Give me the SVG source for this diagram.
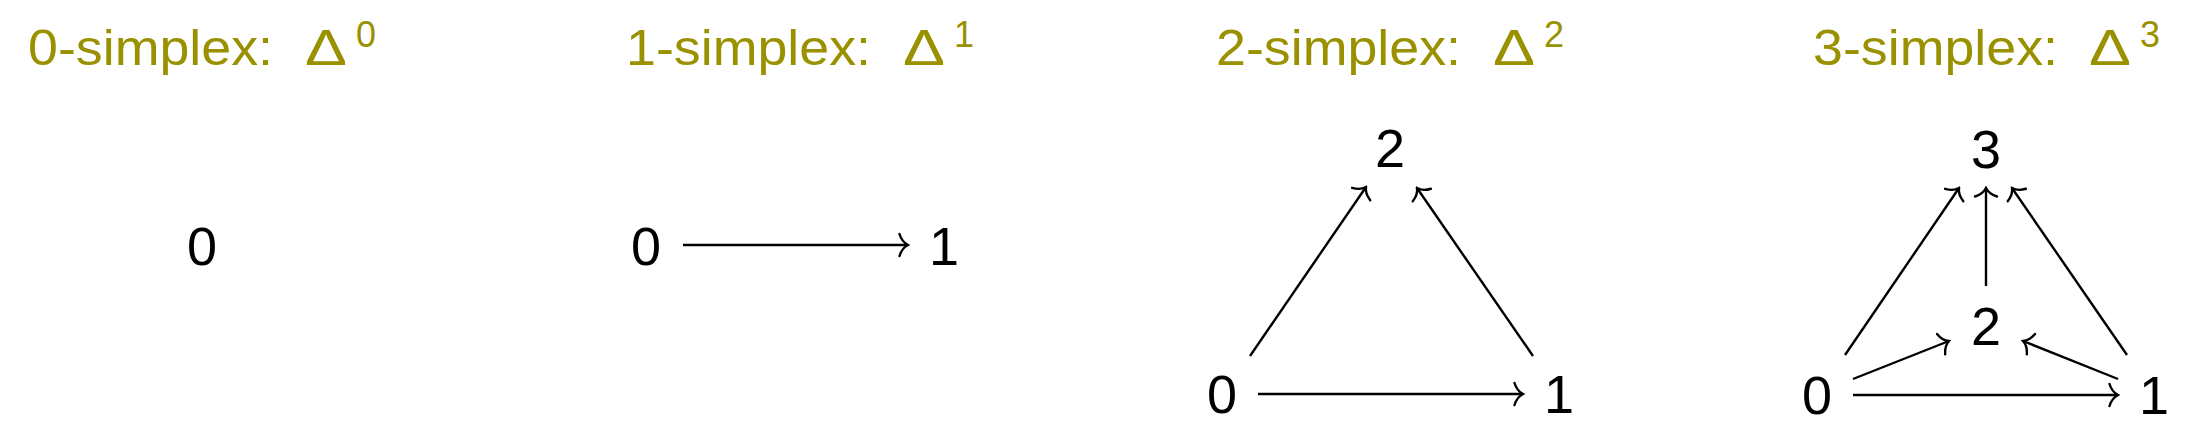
<svg xmlns="http://www.w3.org/2000/svg" width="2196" height="428" viewBox="0 0 2196 428">
  <style>
    .title { font-family: "Liberation Sans", Arial, sans-serif; fill: #999100; font-size: 50px; }
    .sup { font-family: "Liberation Sans", Arial, sans-serif; fill: #999100; font-size: 36px; }
    .lbl { font-family: "Liberation Sans", Arial, sans-serif; fill: #000; font-size: 54px; text-anchor: middle; }
    .edge { stroke: #000; stroke-width: 2.4; fill: none; marker-end: url(#to); }
  </style>
  <defs>
    <marker id="to" viewBox="-12 -14 14 28" refX="0" refY="0" markerWidth="14" markerHeight="28" markerUnits="userSpaceOnUse" orient="auto">
      <path d="M -8.5,-11 C -6.5,-4.5 -2.5,-1.2 0,0 C -2.5,1.2 -6.5,4.5 -8.5,11" fill="none" stroke="#000" stroke-width="2.4" stroke-linecap="round"/>
    </marker>
  </defs>
  <rect width="2196" height="428" fill="#fff"/>

  <g id="title0">
    <text class="title" x="28" y="65" textLength="245" lengthAdjust="spacingAndGlyphs">0-simplex:</text>
    <text class="title" x="305" y="65" textLength="42" lengthAdjust="spacingAndGlyphs">Δ</text>
    <text class="sup" x="356" y="47">0</text>
  </g>
  <g id="title1">
    <text class="title" x="626" y="65" textLength="245" lengthAdjust="spacingAndGlyphs">1-simplex:</text>
    <text class="title" x="903" y="65" textLength="42" lengthAdjust="spacingAndGlyphs">Δ</text>
    <text class="sup" x="954" y="47">1</text>
  </g>
  <g id="title2">
    <text class="title" x="1216" y="65" textLength="245" lengthAdjust="spacingAndGlyphs">2-simplex:</text>
    <text class="title" x="1493" y="65" textLength="42" lengthAdjust="spacingAndGlyphs">Δ</text>
    <text class="sup" x="1544" y="47">2</text>
  </g>
  <g id="title3">
    <text class="title" x="1813" y="65" textLength="245" lengthAdjust="spacingAndGlyphs">3-simplex:</text>
    <text class="title" x="2089" y="65" textLength="42" lengthAdjust="spacingAndGlyphs">Δ</text>
    <text class="sup" x="2140" y="47">3</text>
  </g>

  <!-- 0-simplex -->
  <g id="s0-n0"><text class="lbl" x="202" y="265">0</text></g>

  <!-- 1-simplex -->
  <g id="s1-n0"><text class="lbl" x="646" y="265">0</text></g>
  <g id="s1-n1"><text class="lbl" x="944" y="265">1</text></g>

  <!-- 2-simplex -->
  <g id="s2-n0"><text class="lbl" x="1222" y="413">0</text></g>
  <g id="s2-n1"><text class="lbl" x="1559" y="413">1</text></g>
  <g id="s2-n2"><text class="lbl" x="1390" y="167">2</text></g>

  <!-- 3-simplex -->
  <g id="s3-n0"><text class="lbl" x="1817" y="414">0</text></g>
  <g id="s3-n1"><text class="lbl" x="2154" y="414">1</text></g>
  <g id="s3-n2"><text class="lbl" x="1986" y="345">2</text></g>
  <g id="s3-n3"><text class="lbl" x="1986" y="168">3</text></g>

  <g id="connectors">
    <line class="edge" x1="683" y1="245" x2="908" y2="245"/>

    <line class="edge" x1="1258" y1="394" x2="1523" y2="394"/>
    <line class="edge" x1="1250" y1="356" x2="1366" y2="187"/>
    <line class="edge" x1="1533" y1="356" x2="1417" y2="188"/>

    <line class="edge" x1="1853" y1="395" x2="2118" y2="395"/>
    <line class="edge" x1="1853" y1="379" x2="1949" y2="341"/>
    <line class="edge" x1="2118" y1="379" x2="2023" y2="341"/>
    <line class="edge" x1="1845" y1="355" x2="1959" y2="188"/>
    <line class="edge" x1="1986" y1="286" x2="1986" y2="188"/>
    <line class="edge" x1="2127" y1="355" x2="2012" y2="188"/>
  </g>
</svg>
